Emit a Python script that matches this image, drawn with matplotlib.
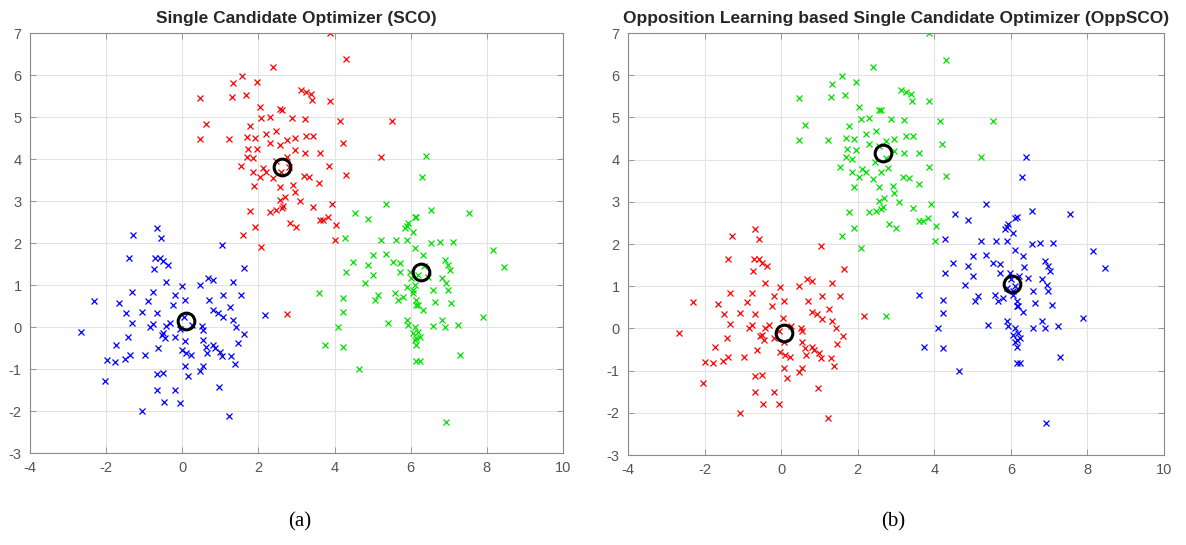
import numpy as np
import matplotlib
matplotlib.use("Agg")
from matplotlib import pyplot as plt

# cluster around (0, 0): blue in (a), red in (b)
low_x = [-0.67, -0.57, -1.29, -1.39, -0.72, -0.59, -0.50, -0.74, -0.43, -1.33, -0.76, -2.31, -1.66,
         -0.89, -1.48, -1.07, -0.67, -1.33, -0.85, -0.76, -0.43, -2.67, -1.42, -0.54, -0.46, -1.74,
         -0.63, -1.99, -1.77, -1.51, -1.38, -0.98, -2.03, -0.67, -0.67, -0.48, -1.07,
         1.03, -0.37, 1.63, 0.68, 0.81, 1.32, -0.02, 0.46, 1.07, 1.54, -0.19, 0.07, 0.71, -0.24,
         1.25, 0.81, 0.94, 1.07, 1.34, 2.17, -0.33, 0.51, 0.55, 1.42, -0.50, -0.19, 1.62, 0.07,
         0.55, 0.62, 0.81, 0.86, 1.47, -0.02, 0.11, 0.24, 0.99, 1.03, 0.64, 1.29, 1.38, 0.07,
         0.55, 0.46, 0.15, -0.50, 0.97, -0.19, -0.06, 1.23, 0.05, 0.25, -0.05]
low_y = [2.35, 2.11, 2.19, 1.64, 1.64, 1.64, 1.56, 1.37, 1.08, 0.84, 0.84, 0.63, 0.58,
         0.63, 0.33, 0.36, 0.34, 0.10, 0.01, 0.07, 0.02, -0.11, -0.23, -0.19, -0.27, -0.43,
         -0.51, -0.79, -0.83, -0.77, -0.67, -0.67, -1.29, -1.12, -1.50, -1.79, -2.00,
         1.95, 1.48, 1.40, 1.16, 1.12, 1.08, 0.98, 1.00, 0.76, 0.76, 0.76, 0.64, 0.64, 0.52,
         0.47, 0.40, 0.33, 0.23, 0.17, 0.29, 0.09, 0.02, -0.07, 0.01, -0.15, -0.23, -0.17, -0.33,
         -0.31, -0.47, -0.43, -0.51, -0.37, -0.55, -0.63, -0.67, -0.59, -0.70, -0.63, -0.70, -0.88, -0.93,
         -0.94, -1.04, -1.17, -1.10, -1.42, -1.50, -1.80, -2.12, 0.25, 0.05, -0.05]

# cluster around (2.6, 4): red in (a), green in (b)
top_x = [2.39, 1.58, 1.34, 1.95, 1.31, 1.67, 0.46, 2.04, 2.56, 2.08, 2.30, 0.62, 1.77, 2.21,
         2.47, 0.46, 1.23, 1.69, 1.91, 2.30, 2.56, 1.73, 1.95, 1.69, 1.86, 1.53, 2.11, 2.21,
         1.86, 2.04, 2.39, 2.56, 1.89, 2.56, 2.69, 2.30, 2.47, 2.65, 1.77, 1.91, 1.60, 2.08,
         3.87, 4.31, 3.13, 3.26, 3.39, 3.42, 3.87, 2.61, 2.87, 3.22, 4.14, 3.26, 3.44, 2.96,
         2.74, 4.21, 2.96, 3.22, 3.61, 3.86, 3.19, 3.33, 4.31, 3.59, 2.91, 2.96, 3.09, 3.92,
         3.44, 2.61, 3.61, 3.83, 4.05, 2.82, 2.99, 5.52, 5.23, 3.70, 4.01,
         2.45, 2.75, 2.60, 2.80, 2.75]
top_y = [6.20, 5.98, 5.80, 5.84, 5.48, 5.52, 5.45, 5.25, 5.18, 4.97, 4.99, 4.83, 4.79, 4.60,
         4.67, 4.47, 4.47, 4.52, 4.49, 4.37, 4.33, 4.25, 4.23, 4.06, 4.02, 3.83, 3.78, 3.70,
         3.70, 3.58, 3.54, 3.34, 3.36, 3.02, 3.10, 2.75, 2.79, 2.87, 2.76, 2.39, 2.19, 1.90,
         6.99, 6.37, 5.64, 5.60, 5.56, 5.40, 5.39, 5.17, 4.97, 4.95, 4.91, 4.55, 4.55, 4.49,
         4.45, 4.37, 4.21, 4.15, 4.15, 3.83, 3.60, 3.56, 3.62, 3.42, 3.38, 3.22, 3.00, 2.94,
         2.85, 2.83, 2.55, 2.61, 2.43, 2.47, 2.39, 4.91, 4.06, 2.55, 2.07,
         3.95, 4.05, 3.70, 3.80, 0.30]

# cluster around (6.2, 1.2): green in (a), blue in (b)
right_x = [5.36, 4.53, 4.88, 6.15, 5.93, 5.84, 4.27, 5.23, 5.62, 5.89, 5.01, 5.36, 4.49, 4.88,
           5.54, 5.71, 4.29, 5.01, 5.71, 4.79, 5.89, 6.06, 5.14, 5.05, 5.58, 5.67, 5.80, 4.22,
           6.15, 4.22, 5.40, 5.89, 5.93, 6.06, 6.15, 4.09, 3.74, 4.22, 6.15, 4.64,
           6.54, 7.54, 6.06, 6.54, 6.76, 7.11, 8.15, 6.10, 6.32, 6.89, 6.98, 7.02, 8.46, 5.97,
           6.01, 6.10, 6.81, 6.94, 6.59, 6.98, 6.06, 6.15, 6.63, 7.07, 6.19, 6.32, 7.89, 6.81,
           6.89, 7.24, 6.59, 6.10, 6.19, 6.24, 6.10, 6.15, 7.29, 6.24, 6.92,
           6.39, 6.30, 5.89, 6.10, 6.35, 6.20, 6.45, 3.60]
right_y = [2.94, 2.71, 2.56, 2.63, 2.47, 2.35, 2.12, 2.07, 2.06, 2.07, 1.71, 1.75, 1.55, 1.48,
           1.55, 1.52, 1.32, 1.24, 1.32, 1.04, 0.96, 0.88, 0.76, 0.64, 0.80, 0.64, 0.72, 0.68,
           0.52, 0.36, 0.09, 0.17, 0.05, -0.15, -0.27, 0.01, -0.43, -0.47, -0.82, -1.00,
           2.78, 2.71, 2.27, 1.99, 2.03, 2.03, 1.83, 1.87, 1.71, 1.60, 1.48, 1.36, 1.44, 1.32,
           1.16, 1.00, 1.16, 1.04, 0.88, 0.88, 0.80, 0.64, 0.60, 0.56, 0.52, 0.40, 0.25, 0.17,
           0.01, 0.05, 0.02, 0.01, -0.11, -0.23, -0.31, -0.43, -0.67, -0.82, -2.25,
           4.07, 3.58, 2.40, 2.61, 1.45, 1.25, 1.20, 0.80]

# centroids found by each optimizer (low, top, right)
sco_cx = [0.10, 2.62, 6.27]
sco_cy = [0.15, 3.82, 1.30]
opp_cx = [0.07, 2.65, 6.02]
opp_cy = [-0.10, 4.15, 1.05]

titles = ["Single Candidate Optimizer (SCO)",
          "Opposition Learning based Single Candidate Optimizer (OppSCO)"]
sublabels = ["(a)", "(b)"]

plt.rcParams['font.family'] = ['Liberation Sans', 'DejaVu Sans']
plt.rcParams['axes.unicode_minus'] = False

fig = plt.figure(figsize=(11.86, 5.45), dpi=100)
ax_a = fig.add_axes([0.0253, 0.1688, 0.4494, 0.7706])
ax_b = fig.add_axes([0.5295, 0.1651, 0.4520, 0.7743])

def draw_panel(ax, colors, cx, cy, title, label, label_x):
    clusters = [(low_x, low_y), (top_x, top_y), (right_x, right_y)]
    for (xs, ys), c in zip(clusters, colors):
        ax.plot(xs, ys, linestyle='none', marker='x', color=c, markersize=4.2, markeredgewidth=0.9)
    ax.plot(cx, cy, linestyle='none', marker='o', markerfacecolor='none',
            markeredgecolor='black', markersize=12, markeredgewidth=2.2)
    ax.set_xlim(-4, 10)
    ax.set_ylim(-3, 7)
    ax.set_xticks(np.arange(-4, 11, 2))
    ax.set_yticks(np.arange(-3, 8, 1))
    ax.grid(True, color='#e3e3e3', linewidth=0.8)
    ax.set_axisbelow(True)
    ax.tick_params(direction='in', top=True, right=True, length=4, width=0.6,
                   colors='#8a8a8a', labelcolor='#555555', labelsize=10.5, pad=6)
    for s in ax.spines.values():
        s.set_color('#8a8a8a')
        s.set_linewidth(0.8)
    ax.set_title(title, fontsize=12.5, fontweight='bold', color='#262626', pad=7)
    fig.text(label_x, 0.042, label, ha='center', va='center',
             fontsize=15, family='Liberation Serif', color='black')

draw_panel(ax_a, ['#0000ff', '#ff0000', '#00e000'], sco_cx, sco_cy, titles[0], sublabels[0], 300 / 1186)
draw_panel(ax_b, ['#ff0000', '#00e000', '#0000ff'], opp_cx, opp_cy, titles[1], sublabels[1], 893 / 1186)

fig.savefig("out.png", dpi=100, facecolor='white')
